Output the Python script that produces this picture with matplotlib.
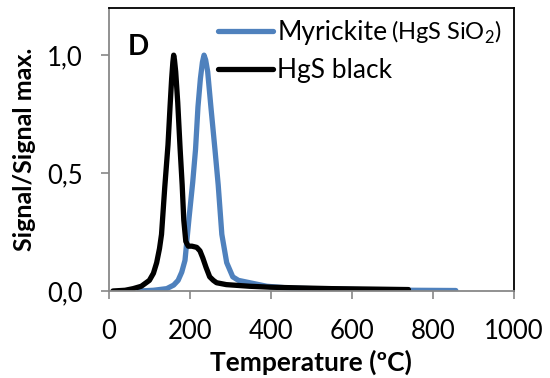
import matplotlib
matplotlib.use('Agg')
import matplotlib.pyplot as plt

plt.rcParams['font.family'] = ['Lato', 'DejaVu Sans']
plt.rcParams['mathtext.fontset'] = 'custom'
plt.rcParams['mathtext.rm'] = 'Lato'

# HgS black
t_black = [10, 40, 60, 80, 100, 110, 118, 125, 130, 138, 146, 151, 155, 158, 160, 162,
           165, 170, 176, 181, 185, 190, 196, 205, 217, 225, 232, 240, 249, 258, 266,
           290, 348, 400, 472, 550, 650, 740]
s_black = [0, 0.003, 0.01, 0.02, 0.045, 0.075, 0.12, 0.18, 0.24, 0.44, 0.62, 0.78,
           0.9, 0.97, 1.0, 0.98, 0.93, 0.8, 0.6, 0.45, 0.3, 0.21, 0.19, 0.19, 0.185,
           0.17, 0.14, 0.10, 0.06, 0.045, 0.035, 0.027, 0.02, 0.016, 0.013, 0.01,
           0.008, 0.006]

# Myrickite
t_myr = [75, 110, 143, 160, 171, 180, 188, 198, 207, 214, 220, 226, 231, 235, 239,
         244, 252, 262, 270, 279, 291, 306, 320, 348, 390, 450, 550, 650, 750, 857]
s_myr = [0, 0.003, 0.01, 0.025, 0.045, 0.08, 0.13, 0.31, 0.46, 0.6, 0.78, 0.9, 0.97,
         1.0, 0.98, 0.93, 0.78, 0.6, 0.45, 0.24, 0.12, 0.06, 0.045, 0.035, 0.02,
         0.012, 0.008, 0.005, 0.003, 0.002]

xticks = [0, 200, 400, 600, 800, 1000]
yticks = [0, 0.5, 1.0]
ytick_labels = ['0,0', '0,5', '1,0']

fig = plt.figure(figsize=(5.5, 3.78), dpi=100)
ax = fig.add_axes([0.198, 0.2302, 0.736, 0.7487])

ax.plot(t_myr, s_myr, color='#4F81BD', lw=3.8, solid_capstyle='round',
        solid_joinstyle='round', label='Myrickite')
ax.plot(t_black, s_black, color='black', lw=3.8, solid_capstyle='round',
        solid_joinstyle='round', label='HgS black')

ax.set_xlim(0, 1000)
ax.set_ylim(0, 1.2)
ax.set_xticks(xticks)
ax.set_yticks(yticks)
ax.set_yticklabels(ytick_labels)
ax.tick_params(axis='both', labelsize=18.5, color='#888888', length=6, width=1.2,
               direction='out')
ax.tick_params(axis='x', pad=14)
ax.tick_params(axis='y', pad=13)

for s in ['left', 'bottom']:
    ax.spines[s].set_color('#888888')
    ax.spines[s].set_linewidth(1.3)
for s in ['top', 'right']:
    ax.spines[s].set_color('black')
    ax.spines[s].set_linewidth(1.3)

ax.set_xlabel('Temperature (ºC)', fontsize=19, fontweight='bold', labelpad=4)
ax.set_ylabel('Signal/Signal max.', fontsize=18, fontweight='bold', labelpad=8)

ax.text(0.047, 0.834, 'D', transform=ax.transAxes, fontsize=20, fontweight='bold')

leg = ax.legend(loc='upper left', bbox_to_anchor=(0.24, 1.0), frameon=False,
                fontsize=19, handlelength=2.1, handletextpad=0.15, labelspacing=0.5,
                borderaxespad=0.05)

# smaller formula after the first legend entry
fig.canvas.draw()
bb = leg.get_texts()[0].get_window_extent()
x0, y0 = fig.transFigure.inverted().transform((bb.x1 + 4, bb.y0 + 0.22 * bb.height))
fig.text(x0, y0, '(HgS SiO$_2$)', fontsize=17, va='baseline')

fig.savefig('out.png', dpi=100)
